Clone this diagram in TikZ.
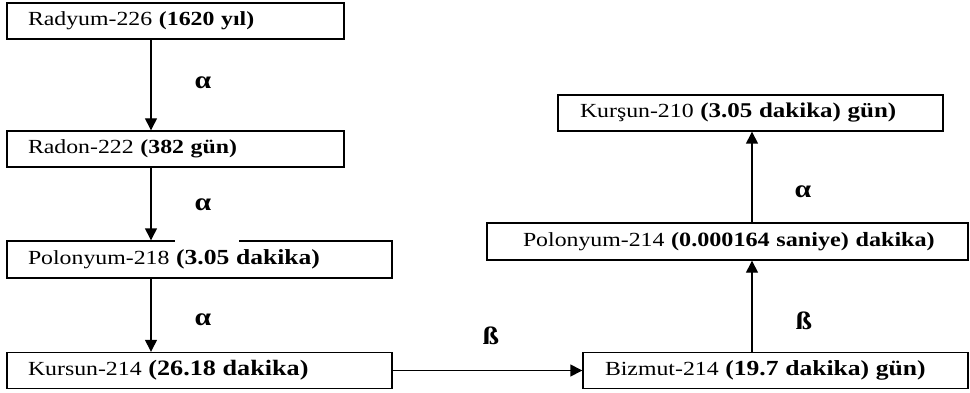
\documentclass[tikz,border=0pt]{standalone}
\usepackage{fontspec}
\setmainfont{Liberation Serif}[FakeStretch=1.19]
\usetikzlibrary{arrows.meta}
\newcommand{\kalin}[2]{{\fontsize{#1}{22}\selectfont\bfseries #2}}

\begin{document}
\begin{tikzpicture}[x=1pt,y=-1pt,font=\fontsize{20}{22}\selectfont,
  kutu/.style={draw,line width=1.4pt,minimum height=36pt,inner xsep=21pt,inner ysep=0pt,align=left},
  ok/.style={-{Triangle[width=12pt,length=12pt]},line width=1.4pt},
  etiket/.style={font=\fontsize{25}{25}\selectfont\bfseries,inner sep=0pt}]
\useasboundingbox (0,0) rectangle (970,393);
\node[kutu,text width=295pt] (ra226) at (175.5,21) {\mbox{Radyum-226 \kalin{20}{(1620 yıl)}}};
\node[kutu,text width=295pt] (rn222) at (175.5,149) {\mbox{Radon-222 \kalin{20}{(382 gün)}}};
\node[kutu,text width=343pt,minimum height=37pt] (po218) at (199.5,259.5) {\mbox{Polonyum-218 \kalin{21.5}{(3.05 dakika)}}};
\node[kutu,text width=343pt] (pb214) at (199.5,370.5) {\mbox{Kursun-214 \kalin{22}{(26.18 dakika)}}};
\node[kutu,text width=341pt,inner xsep=22pt] (bi214) at (775.5,370.5) {\mbox{Bizmut-214 \kalin{21.5}{(19.7 dakika) gün)}}};
\node[kutu,text width=409pt,inner xsep=36pt,minimum height=37pt] (po214) at (727.5,241.5) {\mbox{Polonyum-214 \kalin{20.3}{(0.000164 saniye) dakika)}}};
\node[kutu,text width=341pt,inner xsep=22pt] (pb210) at (750.5,113) {\mbox{Kurşun-210 \kalin{21}{(3.05 dakika) gün)}}};
\fill[white] (175,239) rectangle (239,243.2);
\coordinate (sol) at (151,0);
\coordinate (sag) at (752,0);
\draw[ok] (ra226.south -| sol) -- (rn222.north -| sol);
\draw[ok] (rn222.south -| sol) -- (po218.north -| sol);
\draw[ok] (po218.south -| sol) -- (pb214.north -| sol);
\draw[ok] (pb214.east) -- (bi214.west);
\draw[ok] (bi214.north -| sag) -- (po214.south -| sag);
\draw[ok] (po214.north -| sag) -- (pb210.south -| sag);
\node[etiket] (a1) at (203,83) {α};
\node[etiket] (a2) at (203,205) {α};
\node[etiket] (a3) at (203,320) {α};
\node[etiket] (a4) at (803,192) {α};
\node[etiket] (b1) at (491,336) {ß};
\node[etiket] (b2) at (804,321) {ß};
\end{tikzpicture}
\end{document}
